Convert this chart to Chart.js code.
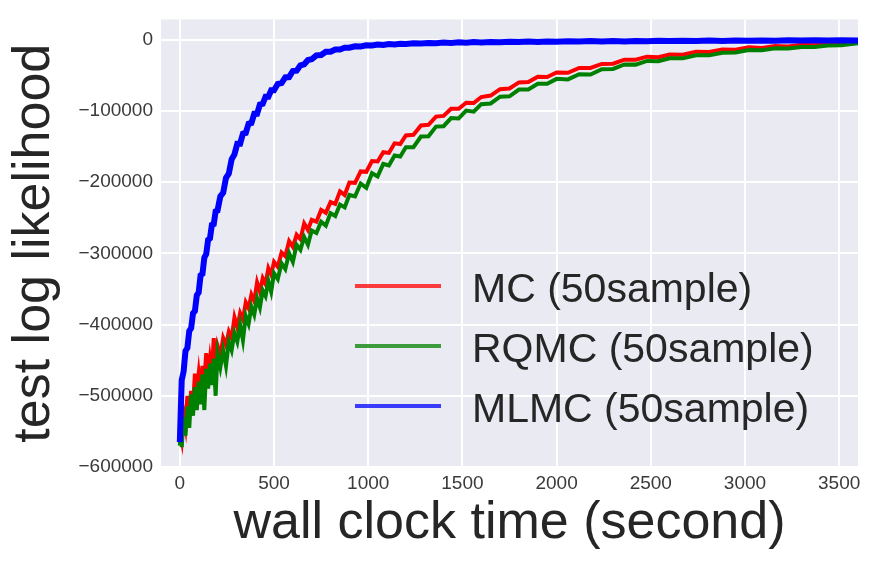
<!DOCTYPE html>
<html><head><meta charset="utf-8">
<script src="https://cdn.jsdelivr.net/npm/chart.js@4.4.1/dist/chart.umd.min.js"></script>
<style>
html,body{margin:0;padding:0;background:#fff;}
#wrap{position:relative;width:876px;height:565px;}
#c{position:absolute;left:0;top:0;}
.row{position:absolute;height:60px;line-height:60px;font-family:"Liberation Sans",Arial,sans-serif;font-size:41px;color:#262626;white-space:nowrap;}
.swatch{position:absolute;left:0;top:26px;width:86px;height:4px;}
.lbl{position:absolute;left:117px;top:0;}
</style></head><body>
<div id="wrap"><canvas id="c" width="876" height="565"></canvas><div id="legend"></div></div>
<script>
const times=[0,5,10,20,30,40,50,60,70,80,90,100,110,120,130,140,150,160,170,180,190,200,215,230,245,260,275,290,305,320,335,350,365,380,395,410,425,440,455,470,485,500,520,540,560,580,600,620,640,660,680,700,725,750,775,800,825,850,875,900,930,960,990,1020,1050,1080,1110,1140,1170,1200,1240,1280,1320,1360,1400,1440,1480,1520,1560,1600,1650,1700,1750,1800,1850,1900,1950,2000,2060,2120,2180,2240,2300,2360,2420,2480,2540,2600,2670,2740,2810,2880,2950,3020,3090,3160,3230,3300,3370,3440,3510,3600];

const mcValues=[-565000,-555000,-562000,-525000,-542000,-500000,-526000,-493000,-515000,-469000,
 -494000,-469000,-495000,-458000,-479000,-440000,-475000,-449000,-469000,-419000,
 -456000,-430000,-444000,-419000,-429000,-410000,-419000,-390000,-404000,-384000,
 -393000,-369000,-377000,-358000,-367000,-341000,-354000,-335000,-343000,-321000,
 -330000,-312000,-319000,-299000,-304000,-283000,-291000,-274000,-280000,-258000,
 -267000,-253000,-255500,-239000,-243000,-228000,-230500,-213000,-218000,-200500,
 -201000,-185000,-185500,-170500,-171000,-158000,-159000,-145500,-146500,-134500,
 -133500,-120500,-119500,-108000,-107000,-97000,-97000,-88500,-89000,-80500,
 -78500,-69500,-68500,-60000,-59500,-52000,-52500,-46000,-46500,-39700,
 -39700,-34000,-33700,-28000,-28000,-23800,-24500,-20800,-21000,-16800,
 -17100,-13600,-14100,-10700,-11500,-8800,-9500,-7000,-7700,-5400,
 -6000,-3800];

const rqmcValues=[-570000,-548000,-572000,-530000,-556000,-515000,-545000,-498000,-528000,-488000,
 -520000,-480000,-512000,-470000,-520000,-462000,-490000,-455000,-485000,-448000,
 -500000,-440000,-460000,-436000,-458000,-424000,-436000,-412000,-424000,-400000,
 -422000,-388000,-399000,-375000,-386000,-363000,-376000,-352000,-360000,-339000,
 -354000,-328000,-336000,-314000,-322000,-300000,-312000,-288000,-295000,-277000,
 -288000,-268000,-271500,-255500,-261000,-243500,-247500,-231500,-235500,-218000,
 -220000,-202000,-208000,-187500,-192000,-174500,-176500,-162500,-164000,-151000,
 -151000,-136000,-135500,-122000,-121500,-110000,-110500,-99500,-101000,-90500,
 -89500,-80000,-79500,-70000,-70000,-62000,-62000,-55000,-55800,-48500,
 -48800,-41500,-41000,-34800,-35000,-29800,-30200,-26000,-26200,-22000,
 -22000,-18300,-18100,-14500,-14900,-12100,-12500,-10200,-10400,-8200,
 -7700,-5000];

const mlmcValues=[-565000,-520000,-478000,-466000,-437000,-433000,-409000,-405000,-384000,-381000,
 -359000,-355000,-331000,-329000,-306000,-301000,-281000,-279000,-260000,-259000,
 -241000,-240000,-220000,-215000,-194000,-188000,-168000,-161000,-146000,-146000,
 -132000,-131000,-118000,-117000,-104000,-104000,-91000,-90000,-80000,-80000,
 -71000,-71000,-62000,-61000,-53000,-52500,-44000,-43500,-36000,-34500,
 -28500,-27500,-22000,-21500,-17000,-17000,-13800,-13700,-11200,-11300,
 -9200,-9400,-7800,-8100,-6900,-7300,-6100,-6600,-5600,-6000,
 -5000,-5400,-4500,-5000,-4100,-4600,-3700,-4200,-3400,-3900,
 -3100,-3600,-2800,-3300,-2600,-3100,-2400,-2900,-2200,-2700,
 -2000,-2500,-1900,-2400,-1700,-2200,-1600,-2000,-1400,-1900,
 -1300,-1700,-1100,-1600,-1000,-1400,-900,-1300,-800,-1200,
 -700,-1000];

const seriesNames=['MC (50sample)','RQMC (50sample)','MLMC (50sample)'];
const xTickValues=[0,500,1000,1500,2000,2500,3000,3500];
const xTickLabels=['0','500','1000','1500','2000','2500','3000','3500'];
const yTickValues=[0,-100000,-200000,-300000,-400000,-500000,-600000];
const yTickLabels=['0','\u2212100000','\u2212200000','\u2212300000','\u2212400000','\u2212500000','\u2212600000'];

const FONT='"Liberation Sans", Arial, sans-serif';
const lineColors=['#ff0000','#008000','#0000ff'];
const legendColors=['rgba(255,0,0,0.75)','rgba(0,128,0,0.75)','rgba(0,0,255,0.75)'];
const seriesData=[mcValues,rqmcValues,mlmcValues];
const widths=[4,4,6];
const orders=[3,2,1];

const bgPlugin={id:'bg',beforeDraw(chart){const {ctx,chartArea:a}=chart;ctx.save();ctx.fillStyle='#eaeaf2';ctx.fillRect(a.left,a.top,a.right-a.left,a.bottom-a.top);ctx.restore();}};

new Chart(document.getElementById('c'),{
  type:'line',
  data:{datasets:seriesNames.map((n,k)=>({
    label:n,
    data:times.map((t,i)=>({x:t,y:seriesData[k][i]})),
    borderColor:lineColors[k],
    backgroundColor:lineColors[k],
    borderWidth:widths[k],
    pointRadius:0,
    tension:0,
    fill:false,
    order:orders[k]
  }))},
  options:{
    responsive:false,animation:false,
    layout:{padding:{top:15,right:18,left:0,bottom:0}},
    plugins:{legend:{display:false},tooltip:{enabled:false}},
    scales:{
      x:{type:'linear',min:-100,max:3600,
        afterBuildTicks(s){s.ticks=xTickValues.map(v=>({value:v}));},
        afterFit(s){s.height=98;},
        ticks:{padding:5,color:'#3a3a3a',font:{family:FONT,size:19},maxRotation:0,autoSkip:false,
          callback:(v,i)=>xTickLabels[i]},
        grid:{color:'#ffffff',lineWidth:2,drawTicks:false},
        border:{display:false},
        title:{display:true,text:'wall clock time (second)',color:'#262626',font:{family:FONT,size:52},padding:{top:0,bottom:10}}
      },
      y:{type:'linear',min:-600000,max:28500,
        afterBuildTicks(s){s.ticks=yTickValues.map(v=>({value:v}));},
        afterFit(s){s.width=161;},
        ticks:{padding:8,color:'#3a3a3a',font:{family:FONT,size:19},autoSkip:false,
          callback:(v,i)=>yTickLabels[i]},
        grid:{color:'#ffffff',lineWidth:2,drawTicks:false},
        border:{display:false},
        title:{display:true,text:'test log likelihood',color:'#262626',font:{family:FONT,size:52},padding:{top:3,bottom:0}}
      }
    }
  },
  plugins:[bgPlugin]
});

const leg=document.getElementById('legend');
seriesNames.forEach((n,i)=>{
  const r=document.createElement('div');r.className='row';
  r.style.left='355px';r.style.top=(258+60*i)+'px';
  const sw=document.createElement('div');sw.className='swatch';sw.style.background=legendColors[i];
  const lb=document.createElement('span');lb.className='lbl';lb.textContent=n;
  r.appendChild(sw);r.appendChild(lb);leg.appendChild(r);
});
</script>
</body></html>
